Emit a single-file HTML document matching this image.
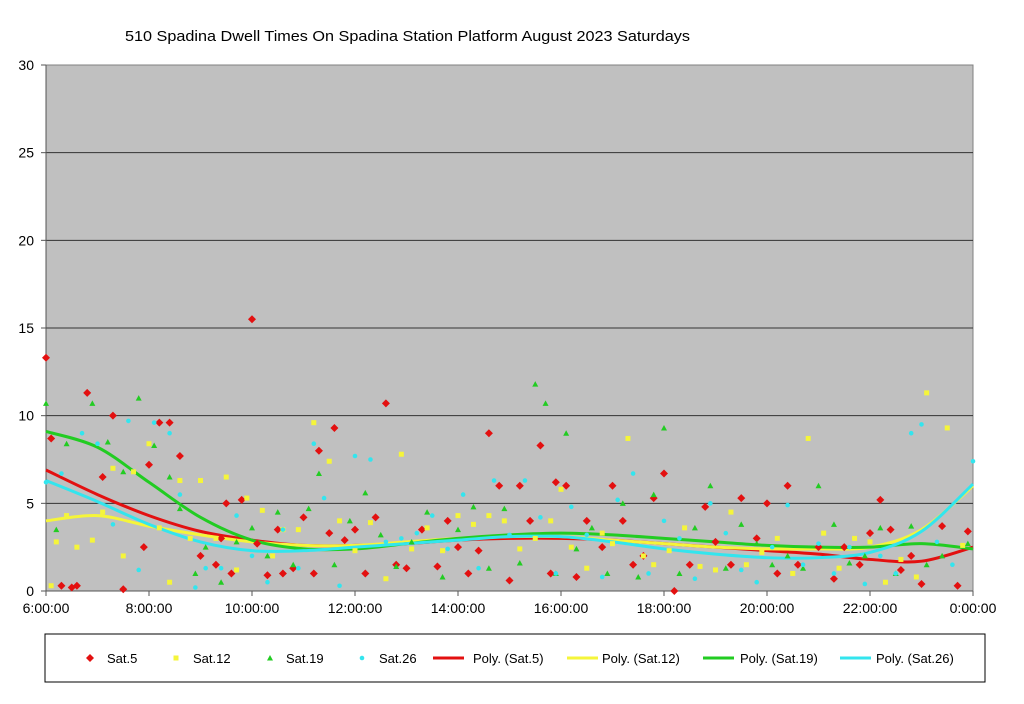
<!DOCTYPE html>
<html><head><meta charset="utf-8"><style>
body{margin:0;background:#fff;font-family:"Liberation Sans",sans-serif}
svg text{font-family:"Liberation Sans",sans-serif}
</style></head><body>
<svg id="c" width="1024" height="699">
<text x="125" y="41" font-size="15" textLength="565" lengthAdjust="spacingAndGlyphs">510 Spadina Dwell Times On Spadina Station Platform August 2023  Saturdays</text>
<rect x="46" y="65" width="927" height="526" fill="#c0c0c0" stroke="#808080"/>
<g id="grid"></g><g id="axes"></g><g id="trends"></g><g id="pts"></g>
<rect x="45" y="634" width="940" height="48" fill="#fff" stroke="#000"/>
<g id="leg"></g>
</svg>
<script>
const yTicks=[0,5,10,15,20,25,30];
const xTicks=["6:00:00","8:00:00","10:00:00","12:00:00","14:00:00","16:00:00","18:00:00","20:00:00","22:00:00","0:00:00"];
const sat5=[[6.0,13.3],[6.1,8.7],[6.3,0.3],[6.5,0.2],[6.6,0.3],[6.8,11.3],[7.1,6.5],[7.3,10],[7.5,0.1],[7.9,2.5],[8.0,7.2],[8.2,9.6],[8.4,9.6],[8.6,7.7],[9.0,2],[9.3,1.5],[9.4,3],[9.5,5],[9.6,1],[9.8,5.2],[10.0,15.5],[10.1,2.7],[10.3,0.9],[10.5,3.5],[10.6,1],[10.8,1.3],[11.0,4.2],[11.2,1],[11.3,8],[11.5,3.3],[11.6,9.3],[11.8,2.9],[12.0,3.5],[12.2,1],[12.4,4.2],[12.6,10.7],[12.8,1.5],[13.0,1.3],[13.3,3.5],[13.6,1.4],[13.8,4],[14.0,2.5],[14.2,1],[14.4,2.3],[14.6,9],[14.8,6],[15.0,0.6],[15.2,6],[15.4,4],[15.6,8.3],[15.8,1],[15.9,6.2],[16.1,6],[16.3,0.8],[16.5,4],[16.8,2.5],[17.0,6],[17.2,4],[17.4,1.5],[17.6,2],[17.8,5.3],[18.0,6.7],[18.2,0],[18.5,1.5],[18.8,4.8],[19.0,2.8],[19.3,1.5],[19.5,5.3],[19.8,3],[20.0,5],[20.2,1],[20.4,6],[20.6,1.5],[21.0,2.5],[21.3,0.7],[21.5,2.5],[21.8,1.5],[22.0,3.3],[22.2,5.2],[22.4,3.5],[22.6,1.2],[22.8,2],[23.0,0.4],[23.4,3.7],[23.7,0.3],[23.9,3.4]];
const sat12=[[6.1,0.3],[6.2,2.8],[6.4,4.3],[6.6,2.5],[6.9,2.9],[7.1,4.5],[7.3,7],[7.5,2],[7.7,6.8],[8.0,8.4],[8.2,3.6],[8.4,0.5],[8.6,6.3],[8.8,3],[9.0,6.3],[9.3,3],[9.5,6.5],[9.7,1.2],[9.9,5.3],[10.2,4.6],[10.4,2],[10.6,3.5],[10.9,3.5],[11.2,9.6],[11.5,7.4],[11.7,4],[12.0,2.3],[12.3,3.9],[12.6,0.7],[12.9,7.8],[13.1,2.4],[13.4,3.6],[13.7,2.3],[14.0,4.3],[14.3,3.8],[14.6,4.3],[14.9,4],[15.2,2.4],[15.5,3],[15.8,4],[16.0,5.8],[16.2,2.5],[16.5,1.3],[16.8,3.3],[17.0,2.7],[17.3,8.7],[17.6,2],[17.8,1.5],[18.1,2.3],[18.4,3.6],[18.7,1.4],[19.0,1.2],[19.3,4.5],[19.6,1.5],[19.9,2.2],[20.2,3],[20.5,1],[20.8,8.7],[21.1,3.3],[21.4,1.3],[21.7,3],[22.0,2.8],[22.3,0.5],[22.6,1.8],[22.9,0.8],[23.1,11.3],[23.5,9.3],[23.8,2.6]];
const sat19=[[6.0,10.7],[6.2,3.5],[6.4,8.4],[6.9,10.7],[7.2,8.5],[7.5,6.8],[7.8,11],[8.1,8.3],[8.4,6.5],[8.6,4.7],[8.9,1],[9.1,2.5],[9.4,0.5],[9.7,2.8],[10.0,3.6],[10.3,2],[10.5,4.5],[10.8,1.5],[11.1,4.7],[11.3,6.7],[11.6,1.5],[11.9,4],[12.2,5.6],[12.5,3.2],[12.8,1.4],[13.1,2.8],[13.4,4.5],[13.7,0.8],[14.0,3.5],[14.3,4.8],[14.6,1.3],[14.9,4.7],[15.2,1.6],[15.5,11.8],[15.7,10.7],[15.9,1],[16.1,9],[16.3,2.4],[16.6,3.6],[16.9,1],[17.2,5],[17.5,0.8],[17.8,5.5],[18.0,9.3],[18.3,1],[18.6,3.6],[18.9,6],[19.2,1.3],[19.5,3.8],[19.8,2.7],[20.1,1.5],[20.4,2],[20.7,1.3],[21.0,6],[21.3,3.8],[21.6,1.6],[21.9,2],[22.2,3.6],[22.5,1],[22.8,3.7],[23.1,1.5],[23.4,2],[23.9,2.7]];
const sat26=[[6.0,6.2],[6.3,6.7],[6.7,9],[7.0,8.4],[7.3,3.8],[7.6,9.7],[7.8,1.2],[8.1,9.6],[8.4,9],[8.6,5.5],[8.9,0.2],[9.1,1.3],[9.4,1.3],[9.7,4.3],[10.0,2],[10.3,0.5],[10.6,3.5],[10.9,1.3],[11.2,8.4],[11.4,5.3],[11.7,0.3],[12.0,7.7],[12.3,7.5],[12.6,2.8],[12.9,3],[13.2,3.3],[13.5,4.3],[13.8,2.4],[14.1,5.5],[14.4,1.3],[14.7,6.3],[15.0,3.2],[15.3,6.3],[15.6,4.2],[15.9,1],[16.2,4.8],[16.5,3.2],[16.8,0.8],[17.1,5.2],[17.4,6.7],[17.7,1],[18.0,4],[18.3,3],[18.6,0.7],[18.9,5],[19.2,3.3],[19.5,1.2],[19.8,0.5],[20.1,2.5],[20.4,4.9],[20.7,1.5],[21.0,2.7],[21.3,1],[21.6,2.5],[21.9,0.4],[22.2,2],[22.5,1],[22.8,9],[23.0,9.5],[23.3,2.8],[23.6,1.5],[24.0,7.4]];
const trendHours=[6,7,8,9,10,11,12,13,14,15,16,17,18,19,20,21,22,23,24];
const trend5=[6.9,5.5,4.3,3.4,2.9,2.6,2.6,2.7,2.9,3.0,3.0,2.9,2.7,2.5,2.3,2.1,1.8,1.7,2.5];
const trend12=[4.0,4.3,3.7,3.2,2.8,2.6,2.6,2.8,3.0,3.1,3.1,2.9,2.7,2.5,2.4,2.4,2.5,3.5,6.0];
const trend19=[9.1,8.2,6.2,4.2,2.9,2.4,2.4,2.7,3.0,3.2,3.3,3.2,3.0,2.8,2.6,2.5,2.5,2.7,2.4];
const trend26=[6.3,5.1,3.8,2.8,2.3,2.3,2.5,2.7,2.9,3.1,3.1,2.8,2.4,2.1,1.9,1.9,2.2,3.4,6.1];
const NS="http://www.w3.org/2000/svg";
const X=h=>46+(h-6)/18*927, Y=v=>591-v/30*526;
function mk(t,a,p){const e=document.createElementNS(NS,t);for(const k in a)e.setAttribute(k,a[k]);p.appendChild(e);return e;}
const grid=document.getElementById('grid'),axes=document.getElementById('axes');
yTicks.forEach(v=>{
 if(v>0&&v<30){const l=mk('line',{x1:46,x2:973,y1:Y(v),y2:Y(v),stroke:'#333','stroke-width':1},grid);
 
 }
 mk('line',{x1:41,x2:46,y1:Y(v),y2:Y(v),stroke:'#555'},axes);
 const t=mk('text',{x:34,y:Y(v)+5,'font-size':14,'text-anchor':'end'},axes);t.textContent=v;
 
 
});
xTicks.forEach((s,i)=>{const x=X(6+i*2);
 mk('line',{x1:x,x2:x,y1:591,y2:596,stroke:'#555'},axes);
 const t=mk('text',{x:x,y:613,'font-size':14,'text-anchor':'middle'},axes);t.textContent=s;
 
 
});
mk('line',{x1:46,x2:46,y1:65,y2:591,stroke:'#555'},axes);
mk('line',{x1:46,x2:973,y1:591,y2:591,stroke:'#555'},axes);
function curve(pts){let d='M'+pts[0][0]+','+pts[0][1];
 for(let i=0;i<pts.length-1;i++){const p0=pts[i-1]||pts[i],p1=pts[i],p2=pts[i+1],p3=pts[i+2]||p2;
 d+=' C'+(p1[0]+(p2[0]-p0[0])/6)+','+(p1[1]+(p2[1]-p0[1])/6)+' '+(p2[0]-(p3[0]-p1[0])/6)+','+(p2[1]-(p3[1]-p1[1])/6)+' '+p2[0]+','+p2[1];}
 return d;}
const series=[{n:'sat5',d:sat5,t:trend5,c:'#e31010',m:'diamond'},{n:'sat12',d:sat12,t:trend12,c:'#f5f53a',m:'square'},{n:'sat19',d:sat19,t:trend19,c:'#22cc22',m:'triangle'},{n:'sat26',d:sat26,t:trend26,c:'#33e5ee',m:'circle'}];
function marker(m,x,y,c,p){
 if(m==='diamond')return mk('polygon',{points:`${x},${y-4} ${x+4},${y} ${x},${y+4} ${x-4},${y}`,fill:c},p);
 if(m==='square')return mk('rect',{x:x-2.5,y:y-2.5,width:5,height:5,fill:c},p);
 if(m==='triangle')return mk('polygon',{points:`${x},${y-3} ${x+3},${y+2.5} ${x-3},${y+2.5}`,fill:c},p);
 return mk('circle',{cx:x,cy:y,r:2.3,fill:c},p);}
const pts=document.getElementById('pts'),tr=document.getElementById('trends');
series.forEach(s=>{s.d.forEach(([h,v])=>{const e=marker(s.m,X(h),Y(v),s.c,pts);
 
 });});
series.forEach(s=>{const p=mk('path',{d:curve(trendHours.map((h,i)=>[X(h),Y(s.t[i])])),fill:'none',stroke:s.c,'stroke-width':3},tr);
 
 });
const leg=document.getElementById('leg');
const labels=['Sat.5','Sat.12','Sat.19','Sat.26','Poly. (Sat.5)','Poly. (Sat.12)','Poly. (Sat.19)','Poly. (Sat.26)'];
const symX=[90,176,270,362,433,567,703,840];
const txtX=[107,193,286,379,473,602,740,876];
labels.forEach((s,i)=>{const g=mk('g',{},leg);
 
 
 const se=series[i%4];
 if(i<4)marker(se.m,symX[i],658,se.c,g);else mk('line',{x1:symX[i],x2:symX[i]+31,y1:658,y2:658,stroke:se.c,'stroke-width':3},g);
 const t=mk('text',{x:txtX[i],y:663,'font-size':13},g);t.textContent=s;});
</script>
</body></html>
